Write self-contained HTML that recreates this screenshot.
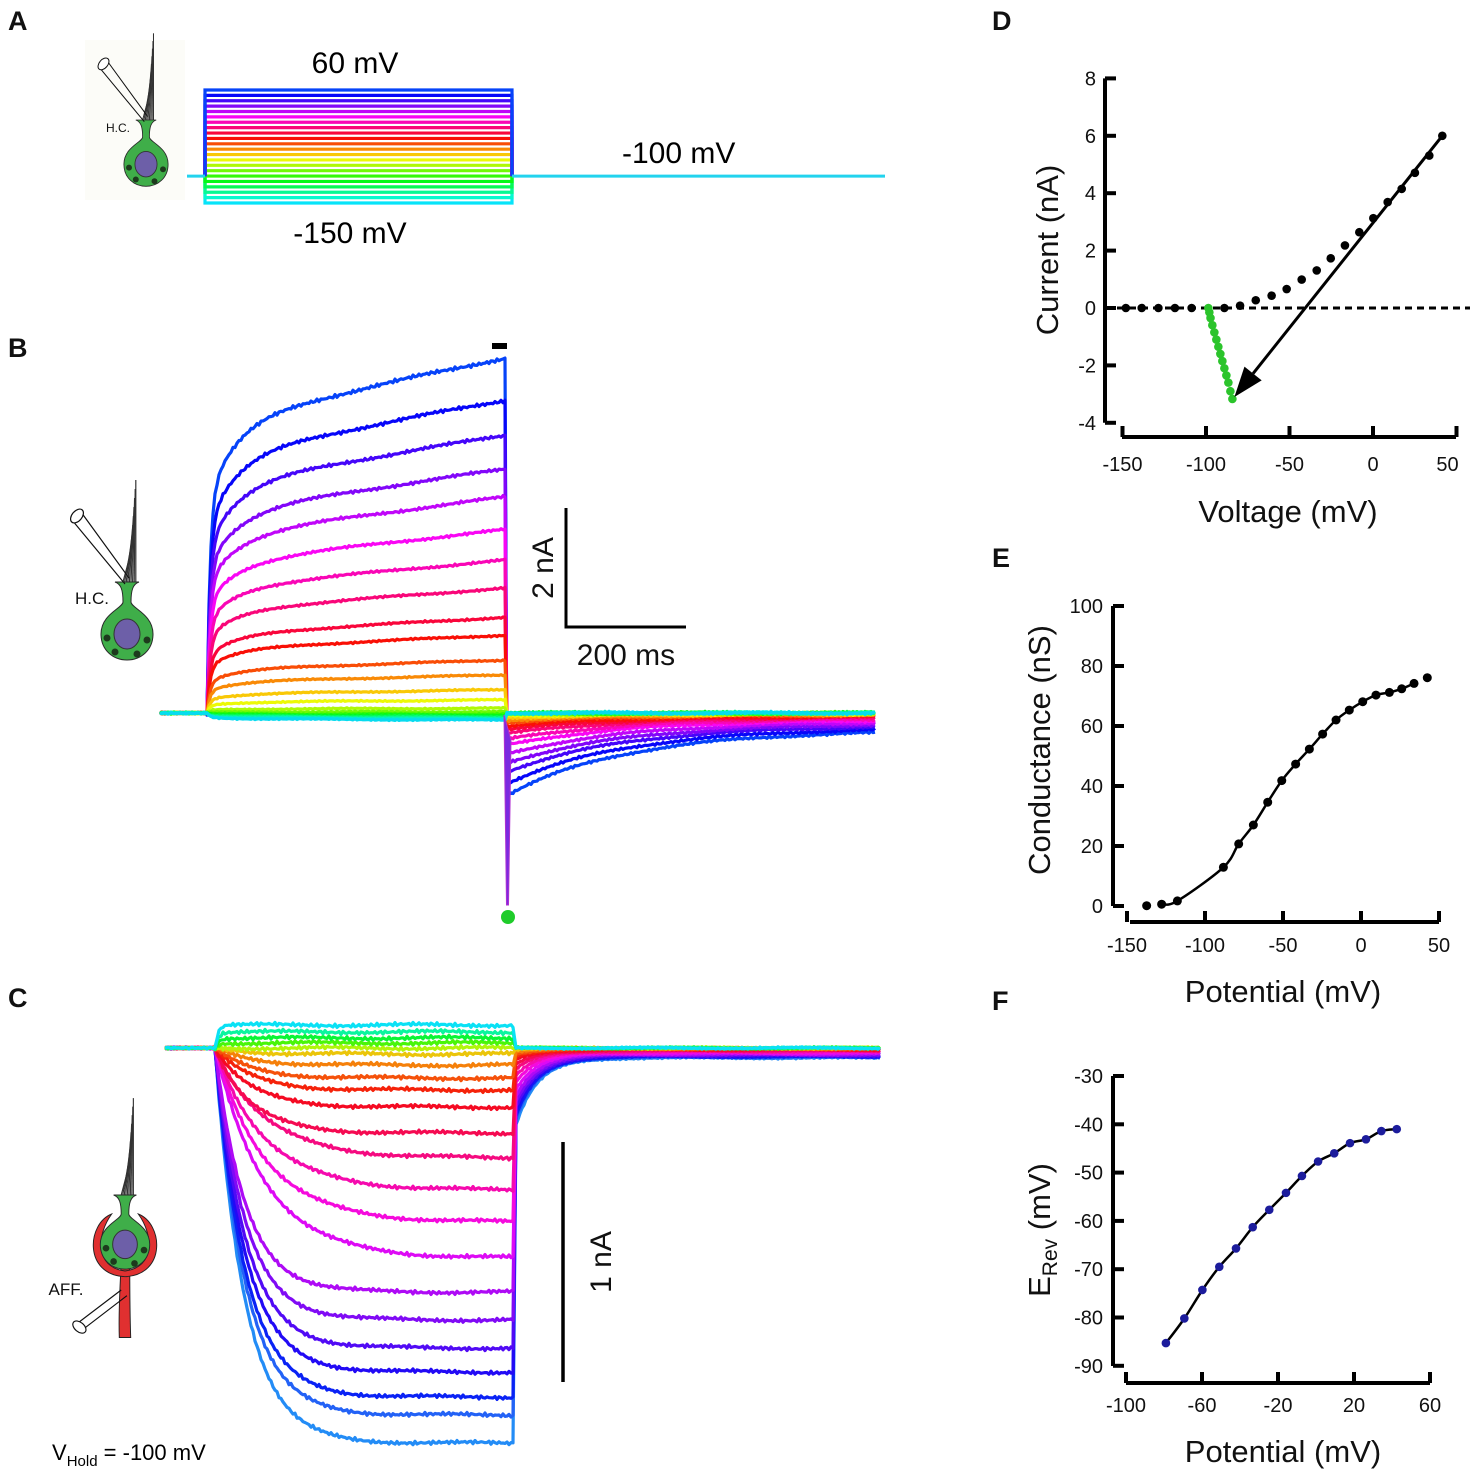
<!DOCTYPE html>
<html><head><meta charset="utf-8"><title>Figure</title>
<style>
html,body{margin:0;padding:0;background:#fff;}
svg{display:block;font-family:"Liberation Sans",Arial,sans-serif;}
</style></head>
<body>
<svg id="fig" xmlns="http://www.w3.org/2000/svg" width="1477" height="1479" viewBox="0 0 1477 1479">
<rect width="1477" height="1479" fill="#fff"/>
<g font-weight="bold" font-size="27" fill="#111">
<text x="8" y="30">A</text>
<text x="8" y="357">B</text>
<text x="8" y="1007">C</text>
<text x="992" y="30">D</text>
<text x="992" y="567">E</text>
<text x="992" y="1010">F</text>
</g>
<g id="panelA"></g>
<g id="panelB"></g>
<g id="panelC"></g>
<g id="panelD"></g>
<g id="panelE"></g>
<g id="panelF"></g>
<g id="icons"></g>
<text x="355" y="73" font-size="30" text-anchor="middle">60 mV</text>
<text x="350" y="243" font-size="30" text-anchor="middle">-150 mV</text>
<text x="622" y="163" font-size="30">-100 mV</text>
<text x="52" y="1460" font-size="22">V<tspan font-size="15" dy="6">Hold</tspan><tspan dy="-6"> = -100 mV</tspan></text>
</svg>
<script>
// ---------- DATA ----------
const stepLevelsA = [60,50,40,30,20,10,0,-10,-20,-30,-40,-50,-60,-70,-80,-90,-100,-110,-120,-130,-140,-150];
const holdA = -100;
const stepAmpB = [5.97,5.26,4.67,4.10,3.63,3.08,2.57,2.10,1.61,1.31,0.89,0.64,0.39,0.22,0.08,0.02,-0.02,-0.04,-0.06,-0.08,-0.10,-0.12];
const tailAmpB = [-1.4,-1.2,-1.0,-0.85,-0.7,-0.55,-0.45,-0.35,-0.28,-0.22,-0.16,-0.12,-0.08,-0.05,-0.03,-0.02,-0.01,0,0,0,0,0];
const stepAmpC = [0.096,0.067,0.042,0.021,0,-0.025,-0.071,-0.125,-0.175,-0.246,-0.354,-0.458,-0.592,-0.725,-0.875,-1.017,-1.133,-1.25,-1.35,-1.454,-1.529,-1.646];
const ivVoltD = [-148,-138.5,-128.5,-118.6,-108.6,-89,-79.6,-70.2,-60.7,-51.7,-42.7,-33.7,-25.3,-16.8,-8.2,0.2,8.8,17.2,25.1,33.7,41.5];
const ivCurrD = [0,0,0,0,0,0,0.08,0.27,0.43,0.66,0.99,1.31,1.73,2.18,2.64,3.13,3.69,4.15,4.71,5.31,6.0];
const tailVoltD = [-98.6,-98,-97.3,-96.2,-95,-93.8,-92.6,-91.4,-90.2,-89,-87.8,-86.6,-85.4,-84.2];
const tailCurrD = [0,-0.15,-0.35,-0.6,-0.85,-1.1,-1.35,-1.6,-1.85,-2.1,-2.35,-2.6,-2.9,-3.17];
const ticksDx = [-150,-100,-50,0,50];
const ticksDy = [-4,-2,0,2,4,6,8];
const gVoltE = [-137.4,-127.8,-117.7,-88.2,-78.4,-69,-59.8,-50.8,-41.9,-33.1,-24.6,-16,-7.5,1.1,9.6,18.2,26.1,34,42.5];
const gValE = [0.1,0.6,1.7,12.9,20.7,27,34.6,41.8,47.3,52.3,57.3,62,65.3,68.1,70.3,71.2,72.4,74.2,76.1];
const ticksEx = [-150,-100,-50,0,50];
const ticksEy = [0,20,40,60,80,100];
const eVoltF = [-79,-69.3,-59.8,-50.9,-42.1,-33.3,-24.6,-15.8,-7.4,1.1,9.6,17.9,26.3,34.4,42.5];
const eValF = [-85.3,-80.2,-74.3,-69.5,-65.7,-61.3,-57.7,-54.2,-50.7,-47.7,-46,-43.9,-43.1,-41.4,-41];
const ticksFx = [-100,-60,-20,20,60];
const ticksFy = [-90,-80,-70,-60,-50,-40,-30];

// ---------- helpers ----------
const NS="http://www.w3.org/2000/svg";
function mk(tag, parent, attrs){const e=document.createElementNS(NS,tag);for(const k in attrs)e.setAttribute(k,attrs[k]);parent.appendChild(e);return e;}
function txt(parent,x,y,s,size,anchor){const t=mk('text',parent,{x:x,y:y,'font-size':size,'text-anchor':anchor||'middle',fill:'#111'});t.textContent=s;return t;}
function jit(x,i){return 1.3*Math.sin(x*1.73+i*2.1)*Math.sin(x*0.37+i)+0.7*Math.sin(x*3.1+i*0.7);}
function catmull(pts){let d='M'+pts[0][0].toFixed(1)+','+pts[0][1].toFixed(1);for(let i=0;i<pts.length-1;i++){const p0=pts[i-1]||pts[i],p1=pts[i],p2=pts[i+1],p3=pts[i+2]||p2;
 const c1=[p1[0]+(p2[0]-p0[0])/6,p1[1]+(p2[1]-p0[1])/6],c2=[p2[0]-(p3[0]-p1[0])/6,p2[1]-(p3[1]-p1[1])/6];
 d+=' C'+c1[0].toFixed(1)+','+c1[1].toFixed(1)+' '+c2[0].toFixed(1)+','+c2[1].toFixed(1)+' '+p2[0].toFixed(1)+','+p2[1].toFixed(1);}return d;}

// ---------- Panel A ----------
(function(){
 const g=document.getElementById('panelA');
 const yA=v=>90+(60-v)*0.538;
 const n=stepLevelsA.length;
 for(let i=n-1;i>=0;i--){
  const v=stepLevelsA[i];
  const h=(225+i*320/(n-1))%360;
  const p=mk('path',g,{d:'M205,'+yA(holdA)+' V'+yA(v)+' H512 V'+yA(holdA),fill:'none',stroke:'hsl('+h+',95%,50%)','stroke-width':3.2});
  
  
 }
 const b=mk('path',g,{d:'M187,'+yA(holdA)+' H205 M512,'+yA(holdA)+' H885',stroke:'#22d3ee','stroke-width':3,fill:'none'});
 
 
})();

// ---------- Panel B ----------
(function(){
 const g=document.getElementById('panelB');
 const y0=713, k=59.5, x0=207, x1=505, xe=875;
 const yB=I=>y0-I*k;
 const n=stepAmpB.length;
 for(let i=0;i<n;i++){
  const A=stepAmpB[i], T=tailAmpB[i];
  const h=(225+i*320/(n-1))%360;
  let d='M160,'+(yB(0)+jit(160,i)*0.6).toFixed(1);
  for(let x=162;x<=x0;x+=3)d+=' L'+x+','+(yB(0)+jit(x,i)*0.6).toFixed(1);
  for(let x=x0;x<=x1;x+=2){const t=x-x0;const f=0.6*(1-Math.exp(-t/3))+0.22*(1-Math.exp(-t/30))+0.18*t/(x1-x0);
   d+=' L'+x+','+(yB(A*f)+jit(x,i)*(0.5+Math.abs(A)*0.15)).toFixed(1);}
  const ss=T*0.2;
  for(let x=x1+2;x<=xe;x+=2){const t=x-x1;const I=ss+(T-ss)*Math.exp(-t/120);d+=' L'+x+','+(yB(I)+jit(x,i)*0.9).toFixed(1);}
  const p=mk('path',g,{d:d,fill:'none',stroke:'hsl('+h+',95%,'+(h>160&&h<200?48:50)+'%)','stroke-width':3.2,'stroke-linejoin':'round'});
  
  
 }
 const sp=mk('path',g,{d:'M504,715 L506.5,905 L508.5,905 L511,740 Z',fill:'#7a2ae0',stroke:'#b030d0','stroke-width':1});
 
 
 const dot=mk('circle',g,{cx:508,cy:917,r:7,fill:'#1fcc2a'});
 
 
 const rb=mk('rect',g,{x:492,y:343,width:15,height:6,fill:'#000'});
 
 
 const sb=mk('path',g,{d:'M566,508 V627 H686',fill:'none',stroke:'#000','stroke-width':3});
 
 
 const t1=txt(g,0,0,'2 nA',30);t1.setAttribute('transform','translate(553,568) rotate(-90)');
 
 
 const t2=txt(g,626,665,'200 ms',30);
 
 
})();

// ---------- Panel C ----------
(function(){
 const g=document.getElementById('panelC');
 const y0=1048,k=240,x0=215,x1=513,xe=880;
 const yC=I=>y0-I*k;
 const n=stepAmpC.length;
 for(let i=n-1;i>=0;i--){
  const L=stepAmpC[i];
  const h=i<6?(185-i*27):((30-(i-6)*12+360)%360);
  const tau=L<-1?30:(L<-0.4?50:35);
  let d='M165,'+(yC(0)+jit(165,i)*0.6).toFixed(1);
  for(let x=168;x<=x0;x+=3)d+=' L'+x+','+(yC(0)+jit(x,i)*0.6).toFixed(1);
  for(let x=x0;x<=x1;x+=2){const t=x-x0;const f=L>0?(1-Math.exp(-t/3)):(1-Math.exp(-t/tau));d+=' L'+x+','+(yC(L*f)+jit(x,i)*1.4).toFixed(1);}
  const T0=L<0?L*0.22:0, ss=L<0?L*0.025:0;
  for(let x=x1+3;x<=xe;x+=2){const t=x-x1;const I=ss+(T0-ss)*Math.exp(-t/22);d+=' L'+x+','+(yC(I)+jit(x,i)*0.7).toFixed(1);}
  const p=mk('path',g,{d:d,fill:'none',stroke:'hsl('+h+',92%,'+(h>190&&h<225?55:(h>45&&h<70?48:50))+'%)','stroke-width':3.2,'stroke-linejoin':'round'});
  
  
 }
 const sb=mk('line',g,{x1:563,y1:1142,x2:563,y2:1382,stroke:'#000','stroke-width':3.5});
 
 
 const t=txt(g,0,0,'1 nA',30);t.setAttribute('transform','translate(611,1262) rotate(-90)');
 
 
})();

// ---------- Panel D ----------
(function(){
 const g=document.getElementById('panelD');
 const X=v=>1373+v*1.67, Y=I=>308-I*28.7;
 const ax=mk('path',g,{d:'M1105,'+Y(8)+' V'+Y(-4)+' M1122,437 H1456',stroke:'#000','stroke-width':4,fill:'none'});
 
 
 ticksDy.forEach(v=>{mk('line',g,{x1:1105,x2:1116,y1:Y(v),y2:Y(v),stroke:'#000','stroke-width':4});
  const t=txt(g,1096,Y(v)+7,String(v),20,'end');
  
  });
 ticksDx.forEach(v=>{mk('line',g,{x1:X(v),x2:X(v),y1:437,y2:426,stroke:'#000','stroke-width':4});
  const t=txt(g,X(v)-(v===50?9:0),471,String(v),20);
  
  });
 const zl=mk('line',g,{x1:1105,x2:1470,y1:Y(0),y2:Y(0),stroke:'#000','stroke-width':3,'stroke-dasharray':'7,5'});
 
 
 ivVoltD.forEach((v,i)=>{const c=mk('circle',g,{cx:X(v),cy:Y(ivCurrD[i]),r:4.3,fill:'#000'});
  
  });
 tailVoltD.forEach((v,i)=>{const c=mk('circle',g,{cx:X(v),cy:Y(tailCurrD[i]),r:4.3,fill:'#2bc42b'});
  
  });
 const last=ivVoltD.length-1, tl=tailVoltD.length-1;
 const sx=X(ivVoltD[last]), sy=Y(ivCurrD[last]), ex=X(tailVoltD[tl])+2, ey=Y(tailCurrD[tl])-2;
 const ang=Math.atan2(ey-sy,ex-sx), L=30, W=11;
 const bx=ex-L*Math.cos(ang), by=ey-L*Math.sin(ang);
 const ar=mk('line',g,{x1:sx,y1:sy,x2:bx,y2:by,stroke:'#000','stroke-width':3});
 
 
 const hd=mk('polygon',g,{points:ex+','+ey+' '+(bx+W*Math.sin(ang))+','+(by-W*Math.cos(ang))+' '+(bx-W*Math.sin(ang))+','+(by+W*Math.cos(ang)),fill:'#000'});
 
 
 const xt=txt(g,1288,522,'Voltage (mV)',31);
 
 
 const yt=txt(g,0,0,'Current (nA)',31);yt.setAttribute('transform','translate(1058,250) rotate(-90)');
 
 
})();

// ---------- Panel E ----------
(function(){
 const g=document.getElementById('panelE');
 const X=v=>1361+v*1.56, Y=G=>906-G*3;
 const ax=mk('path',g,{d:'M1113,606 V906 M1130,922 H1439',stroke:'#000','stroke-width':4,fill:'none'});
 
 
 ticksEy.forEach(v=>{mk('line',g,{x1:1113,x2:1124,y1:Y(v),y2:Y(v),stroke:'#000','stroke-width':4});
  const t=txt(g,1103,Y(v)+7,String(v),20,'end');
  
  });
 ticksEx.forEach(v=>{mk('line',g,{x1:X(v),x2:X(v),y1:922,y2:911,stroke:'#000','stroke-width':4});
  const t=txt(g,X(v),952,String(v),20);
  
  });
 const pts=[];
 for(let i=1;i<gVoltE.length-1;i++)pts.push([X(gVoltE[i]),Y(gValE[i])]);
 const fit=mk('path',g,{d:catmull(pts),fill:'none',stroke:'#000','stroke-width':2.5});
 
 
 gVoltE.forEach((v,i)=>{const c=mk('circle',g,{cx:X(v),cy:Y(gValE[i]),r:4.5,fill:'#000'});
  
  });
 const xt=txt(g,1283,1002,'Potential (mV)',31);
 
 
 const yt=txt(g,0,0,'Conductance (nS)',31);yt.setAttribute('transform','translate(1050,750) rotate(-90)');
 
 
})();

// ---------- Panel F ----------
(function(){
 const g=document.getElementById('panelF');
 const X=v=>1126+(v+100)*1.9, Y=E=>1076+(-30-E)*4.83;
 const ax=mk('path',g,{d:'M1113,1076 V1366 M1126,1383 H1430',stroke:'#000','stroke-width':4,fill:'none'});
 
 
 ticksFy.forEach(v=>{mk('line',g,{x1:1113,x2:1124,y1:Y(v),y2:Y(v),stroke:'#000','stroke-width':4});
  const t=txt(g,1103,Y(v)+7,String(v),20,'end');
  
  });
 ticksFx.forEach(v=>{mk('line',g,{x1:X(v),x2:X(v),y1:1383,y2:1372,stroke:'#000','stroke-width':4});
  const t=txt(g,X(v),1412,String(v),20);
  
  });
 const pts=eVoltF.map((v,i)=>[X(v),Y(eValF[i])]);
 const fit=mk('path',g,{d:catmull(pts),fill:'none',stroke:'#000','stroke-width':2.5});
 
 
 eVoltF.forEach((v,i)=>{const c=mk('circle',g,{cx:X(v),cy:Y(eValF[i]),r:4.3,fill:'#1c1c9c'});
  
  });
 const xt=txt(g,1283,1462,'Potential (mV)',31);
 
 
 const yt=mk('text',g,{'font-size':31,'text-anchor':'middle',fill:'#111',transform:'translate(1050,1230) rotate(-90)'});
 yt.innerHTML='E<tspan font-size="21" dy="7">Rev</tspan><tspan dy="-7"> (mV)</tspan>';
 
 
})();

// ---------- Cell icons ----------
(function(){
 const g=document.getElementById('icons');
 function hairCell(parent,tx,ty,s,aff){
  const c=mk('g',parent,{transform:'translate('+tx+','+ty+') scale('+s+')'});
  for(let j=0;j<9;j++){mk('line',c,{x1:-4+j*1.6,y1:0,x2:4+j*0.6,y2:-30-j*9,stroke:'#333','stroke-width':1.2});}
  if(aff){
   mk('path',c,{d:'M-4,70 C-5,95 -7,120 -6,150 L6,150 C5,120 5,95 5,70 Z',fill:'#e03030',stroke:'#222','stroke-width':1});
   mk('path',c,{d:'M-14,20 C-40,30 -44,84 0,86 C44,84 40,30 14,20 C30,42 32,76 0,80 C-32,76 -30,42 -14,20 Z',fill:'#e03030',stroke:'#222','stroke-width':1});
  }
  mk('path',c,{d:'M-12,0 C-6,2 -4,8 -4,20 C-4,26 -26,32 -26,52 C-26,68 -14,78 0,78 C14,78 26,68 26,52 C26,32 4,26 4,20 C4,8 6,2 12,0 Z',fill:'#3fae49',stroke:'#2a2a2a','stroke-width':1});
  mk('ellipse',c,{cx:0,cy:52,rx:13,ry:15,fill:'#6d5fa8',stroke:'#333','stroke-width':1});
  [[-20,56],[-12,70],[10,72],[20,58]].forEach(p=>mk('circle',c,{cx:p[0],cy:p[1],r:3.5,fill:'#1d3a1d'}));
  if(!aff){mk('path',c,{d:'M-55,-62 L-2,2 M-46,-70 L2,-4',stroke:'#111','stroke-width':1.2});
   mk('ellipse',c,{cx:-50,cy:-66,rx:5,ry:8,fill:'#fff',stroke:'#111','stroke-width':1.2,transform:'rotate(40,-50,-66)'});}
  else{mk('path',c,{d:'M-50,135 L-4,100 M-45,142 L2,106',stroke:'#111','stroke-width':1.2});
   mk('ellipse',c,{cx:-48,cy:139,rx:5,ry:8,fill:'#fff',stroke:'#111','stroke-width':1.2,transform:'rotate(-50,-48,139)'});}
  return c;
 }
 const bg=mk('rect',g,{x:85,y:40,width:100,height:160,fill:'#fcfcf8'});
 
 
 const a=hairCell(g,146,120,0.85,false);
 
 
 const ta=txt(g,118,132,'H.C.',12);
 
 
 const b=hairCell(g,127,582,1.0,false);
 
 
 const tb=txt(g,92,604,'H.C.',17);
 
 
 const c=hairCell(g,125,1195,0.95,true);
 
 
 const tc=txt(g,66,1295,'AFF.',17);
 
 
})();
</script>
</body></html>
